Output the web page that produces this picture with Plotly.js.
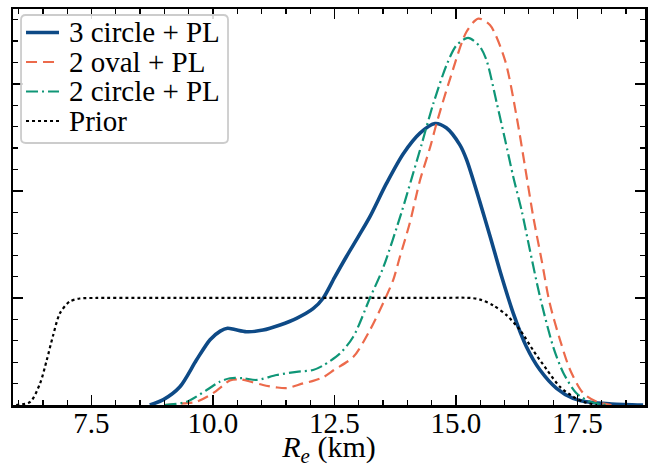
<!DOCTYPE html>
<html>
<head>
<meta charset="utf-8">
<script src="https://cdn.plot.ly/plotly-3.0.1.min.js"></script>
<style>html,body{margin:0;padding:0;background:#fff;}#chart{width:651px;height:468px;}</style>
</head>
<body>
<div id="chart"></div>
<script>
// ---- data ----
const seriesNames = ["3 circle + PL", "2 oval + PL", "2 circle + PL", "Prior"];

const circle3X = [8.7, 8.98, 9.32, 9.66, 9.94, 10.15, 10.3, 10.45, 10.69, 11.03, 11.38, 11.72, 12.06, 12.27, 12.5, 12.75, 13.0, 13.23, 13.57, 13.92, 14.26, 14.57, 14.8, 15.08, 15.22, 15.49, 15.7, 15.94, 16.18, 16.45, 16.73, 17.07, 17.41, 17.76, 18.2, 18.85];
const circle3Y = [0, 0.005, 0.017, 0.042, 0.061, 0.069, 0.0717, 0.0705, 0.0685, 0.070, 0.0748, 0.081, 0.090, 0.100, 0.119, 0.139, 0.158, 0.176, 0.207, 0.235, 0.254, 0.263, 0.259, 0.243, 0.229, 0.190, 0.158, 0.120, 0.0857, 0.0545, 0.0327, 0.0156, 0.0062, 0.0025, 0.001, 0];

const oval2X = [9.0, 9.4, 9.66, 10.0, 10.2, 10.35, 10.56, 10.8, 11.03, 11.3, 11.52, 11.86, 12.06, 12.27, 12.5, 12.89, 13.23, 13.54, 13.71, 13.85, 14.05, 14.26, 14.47, 14.6, 14.88, 15.22, 15.46, 15.7, 16.01, 16.25, 16.42, 16.59, 16.76, 16.93, 17.14, 17.35, 17.62, 17.9, 18.2];
const oval2Y = [0, 0.0015, 0.003, 0.011, 0.018, 0.023, 0.024, 0.0215, 0.0187, 0.0165, 0.0158, 0.0203, 0.0225, 0.026, 0.033, 0.045, 0.070, 0.099, 0.117, 0.139, 0.170, 0.210, 0.241, 0.263, 0.305, 0.349, 0.361, 0.355, 0.322, 0.269, 0.223, 0.176, 0.136, 0.095, 0.061, 0.0327, 0.011, 0.003, 0];

const circle2X = [9.0, 9.46, 9.87, 10.14, 10.35, 10.62, 10.9, 11.31, 11.72, 12.06, 12.27, 12.61, 12.89, 13.23, 13.5, 13.88, 14.09, 14.29, 14.53, 14.81, 15.01, 15.25, 15.49, 15.63, 15.84, 16.01, 16.18, 16.35, 16.52, 16.73, 17.0, 17.21, 17.48, 17.76, 18.1];
const circle2Y = [0, 0.003, 0.014, 0.0218, 0.025, 0.025, 0.0234, 0.028, 0.031, 0.0327, 0.037, 0.048, 0.064, 0.100, 0.128, 0.180, 0.212, 0.243, 0.281, 0.318, 0.336, 0.343, 0.335, 0.322, 0.282, 0.248, 0.213, 0.182, 0.145, 0.101, 0.0545, 0.030, 0.011, 0.003, 0];

const priorX = [5.95, 6.24, 6.44, 6.58, 6.71, 6.85, 7.05, 7.26, 7.6, 8.5, 9.5, 10.5, 11.5, 12.5, 13.5, 14.5, 15.3, 15.5, 15.77, 16.04, 16.32, 16.59, 16.87, 17.14, 17.41, 17.62, 17.9];
const priorY = [0, 0.003, 0.020, 0.042, 0.065, 0.0857, 0.0966, 0.0995, 0.1, 0.1, 0.1, 0.1, 0.1, 0.1, 0.1, 0.1, 0.1, 0.0985, 0.093, 0.084, 0.070, 0.051, 0.033, 0.017, 0.0078, 0.003, 0];

const xTickVals = [7.5, 10.0, 12.5, 15.0, 17.5];
const xTickText = ["7.5", "10.0", "12.5", "15.0", "17.5"];

// ---- styles ----
const serif = "Liberation Serif";
const lineStyles = [
  {color: "#0e4a86", width: 3.6},
  {color: "#ec6a4b", width: 2.2, dash: "11px,6px"},
  {color: "#0f9677", width: 2.2, dash: "12px,4px,2px,4px"},
  {color: "#000000", width: 2.2, dash: "3px,3px"}
];
const xs = [circle3X, oval2X, circle2X, priorX];
const ys = [circle3Y, oval2Y, circle2Y, priorY];

const traces = xs.map((x, i) => ({
  x: x, y: ys[i], name: seriesNames[i], mode: "lines", showlegend: false,
  line: Object.assign({shape: "spline", smoothing: 0.8}, lineStyles[i])
}));

// ---- legend box (paper coordinates) ----
const bx0 = 0.0127, bx1 = 0.3402, by0 = 0.6616, by1 = 0.9848, rx = 0.0075, ry = 0.012;
const boxPath = `M ${bx0+rx},${by1} L ${bx1-rx},${by1} Q ${bx1},${by1} ${bx1},${by1-ry} L ${bx1},${by0+ry} Q ${bx1},${by0} ${bx1-rx},${by0} L ${bx0+rx},${by0} Q ${bx0},${by0} ${bx0},${by0+ry} L ${bx0},${by1-ry} Q ${bx0},${by1} ${bx0+rx},${by1} Z`;
const rowY = [0.9407, 0.8662, 0.7917, 0.7172];
const shapes = [{type: "path", xref: "paper", yref: "paper", path: boxPath,
  fillcolor: "rgba(255,255,255,0.85)", line: {color: "#cccccc", width: 1.8}, layer: "above"}];
const annotations = [];
rowY.forEach((yy, i) => {
  shapes.push({type: "line", xref: "paper", yref: "paper", x0: 0.0206, x1: 0.0728, y0: yy, y1: yy,
    line: lineStyles[i], layer: "above"});
  annotations.push({xref: "paper", yref: "paper", x: 0.085, y: yy, xanchor: "left", yanchor: "middle",
    text: seriesNames[i], showarrow: false, font: {family: serif, size: 29, color: "#000"}});
});

const axisCommon = {
  showgrid: false, zeroline: false, showline: true, linecolor: "#000", linewidth: 2.5,
  mirror: "ticks", ticks: "inside", tickcolor: "#000", tickwidth: 1.6
};

const layout = {
  width: 651, height: 468,
  margin: {l: 13, r: 6, t: 9, b: 63},
  paper_bgcolor: "#fff", plot_bgcolor: "#fff",
  font: {family: serif, color: "#000", size: 29},
  showlegend: false,
  shapes: shapes,
  annotations: annotations,
  xaxis: Object.assign({}, axisCommon, {
    range: [5.885, 18.89], tickmode: "array", tickvals: xTickVals, ticktext: xTickText,
    ticklen: 10, tickfont: {family: serif, size: 29}, ticklabelstandoff: -9,
    minor: {dtick: 0.5, tick0: 0, ticks: "inside", ticklen: 5, tickwidth: 1.3, tickcolor: "#000"},
    title: {text: "<i>R</i><sub><i>e</i></sub> (km)", font: {family: serif, size: 30}, standoff: 17}
  }),
  yaxis: Object.assign({}, axisCommon, {
    range: [0, 0.370], dtick: 0.1, tick0: 0, ticklen: 10, showticklabels: false,
    minor: {dtick: 0.02, tick0: 0, ticks: "inside", ticklen: 5, tickwidth: 1.3, tickcolor: "#000"}
  })
};

Plotly.newPlot("chart", traces, layout, {staticPlot: true, displayModeBar: false});
</script>
</body>
</html>
